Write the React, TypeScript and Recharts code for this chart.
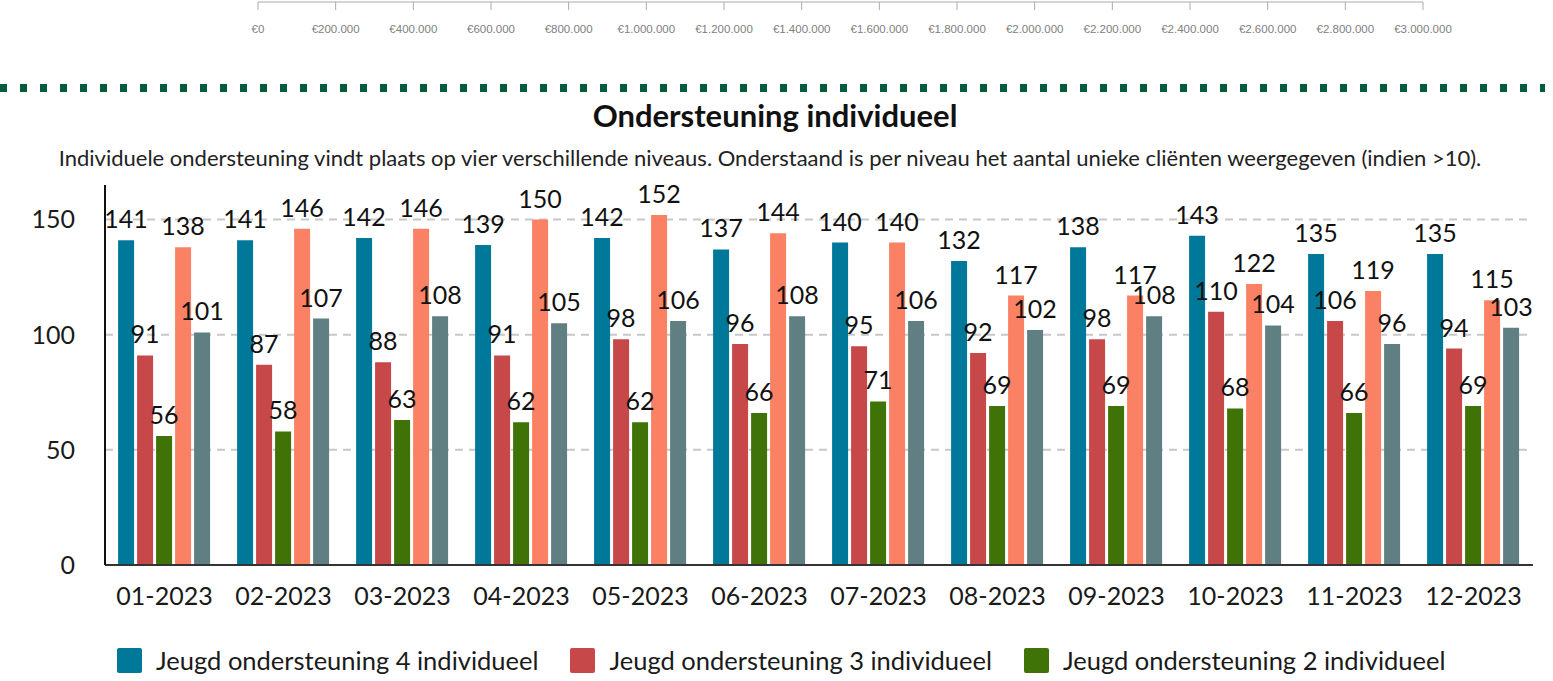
import { BarChart, Bar, XAxis, YAxis, CartesianGrid, LabelList } from 'recharts';

// months on the x axis
const months = ['01-2023', '02-2023', '03-2023', '04-2023', '05-2023', '06-2023', '07-2023', '08-2023', '09-2023', '10-2023', '11-2023', '12-2023'];

// unique clients per level
const niveau4 = [141, 141, 142, 139, 142, 137, 140, 132, 138, 143, 135, 135];
const niveau3 = [91, 87, 88, 91, 98, 96, 95, 92, 98, 110, 106, 94];
const niveau2 = [56, 58, 63, 62, 62, 66, 71, 69, 69, 68, 66, 69];
const niveau5 = [138, 146, 146, 150, 152, 144, 140, 117, 117, 122, 119, 115];
const niveau1 = [101, 107, 108, 105, 106, 108, 106, 102, 108, 104, 96, 103];

const yTicks = [0, 50, 100, 150];
const gridValues = [50, 100, 150];

// axis of the chart above (only its axis is visible)
const euroTicks = [0, 200000, 400000, 600000, 800000, 1000000, 1200000, 1400000, 1600000, 1800000, 2000000, 2200000, 2400000, 2600000, 2800000, 3000000];

const series = [
  { key: 'n4', name: 'Jeugd ondersteuning 4 individueel', color: '#00789a', values: niveau4, legend: true },
  { key: 'n3', name: 'Jeugd ondersteuning 3 individueel', color: '#c64848', values: niveau3, legend: true },
  { key: 'n2', name: 'Jeugd ondersteuning 2 individueel', color: '#3f7308', values: niveau2, legend: true },
  { key: 'n5', name: 'Jeugd ondersteuning 5 individueel', color: '#fa8164', values: niveau5, legend: false },
  { key: 'n1', name: 'Jeugd ondersteuning 1 individueel', color: '#607f83', values: niveau1, legend: false },
];

const chartData = months.map((m, i) => {
  const row: Record<string, string | number> = { month: m };
  series.forEach((s) => {
    row[s.key] = s.values[i];
  });
  return row;
});

const euro = (v: number) => '€' + String(v).replace(/\B(?=(\d{3})+(?!\d))/g, '.');

const FONT = 'Lato, "Noto Sans", sans-serif';

export default function App() {
  return (
    <div style={{ position: 'absolute', left: 0, top: 0, width: 1553, height: 681, background: '#fff', fontFamily: FONT }}>
      {/* leftover axis from the chart above */}
      <div style={{ position: 'absolute', left: 0, top: 0 }}>
        <BarChart width={1553} height={52} layout="vertical" data={[{ name: 'x', v: 0 }]} margin={{ top: 0, right: 130, left: 258, bottom: 0 }}>
          <XAxis
            type="number"
            domain={[0, 3000000]}
            ticks={euroTicks}
            interval={0}
            height={50}
            stroke="#aaaaaa"
            tickSize={8}
            tickMargin={15}
            tickFormatter={euro}
            tick={{ fill: '#808080', fontSize: 11.5, fontFamily: '"Liberation Sans", sans-serif' }}
          />
          <YAxis type="category" dataKey="name" hide width={0} />
          <Bar dataKey="v" isAnimationActive={false} />
        </BarChart>
      </div>

      <svg style={{ position: 'absolute', left: 0, top: 84 }} width={1553} height={8}>
        <line x1={0} y1={4} x2={1545} y2={4} stroke="#045c3a" strokeWidth={8} strokeDasharray="7 13" />
      </svg>

      <div style={{ position: 'absolute', left: 0, top: 100, width: 1550, textAlign: 'center', fontSize: 31, lineHeight: '31px', fontWeight: 700, color: '#111' }}>
        Ondersteuning individueel
      </div>
      <div style={{ position: 'absolute', left: 0, top: 147, width: 1540, textAlign: 'center', fontSize: 22, lineHeight: '22px', color: '#222', whiteSpace: 'nowrap' }}>
        Individuele ondersteuning vindt plaats op vier verschillende niveaus. Onderstaand is per niveau het aantal unieke cliënten weergegeven (indien &gt;10).
      </div>

      <div style={{ position: 'absolute', left: 0, top: 172 }}>
        <BarChart
          width={1553}
          height={443}
          data={chartData}
          margin={{ top: 13, right: 20, left: 0, bottom: 0 }}
          barCategoryGap="11%"
          barGap={3}
        >
          <CartesianGrid vertical={false} horizontalValues={gridValues} stroke="#c8c8c8" strokeWidth={2} strokeDasharray="8 6" />
          <XAxis
            dataKey="month"
            height={50}
            interval={0}
            tickLine={false}
            tickSize={0}
            tickMargin={22}
            axisLine={{ stroke: '#333', strokeWidth: 2 }}
            tick={{ fill: '#1a1a1a', fontSize: 25, fontFamily: FONT }}
          />
          <YAxis
            width={105}
            domain={[0, 165]}
            ticks={yTicks}
            interval={0}
            tickLine={false}
            tickSize={0}
            tickMargin={30}
            axisLine={{ stroke: '#111', strokeWidth: 2 }}
            tick={{ fill: '#1a1a1a', fontSize: 25, fontFamily: FONT }}
          />
          {series.map((s) => (
            <Bar key={s.key} dataKey={s.key} name={s.name} fill={s.color} isAnimationActive={false}>
              <LabelList dataKey={s.key} position="top" offset={12} fill="#111" fontSize={25} fontFamily={FONT} />
            </Bar>
          ))}
        </BarChart>
      </div>

      <div style={{ position: 'absolute', left: 117, top: 646, display: 'flex', alignItems: 'center' }}>
        {series.filter((s) => s.legend).map((s) => (
          <div key={s.key} style={{ display: 'flex', alignItems: 'center', marginRight: 32 }}>
            <div style={{ width: 25, height: 25, background: s.color, borderRadius: 2, marginRight: 14 }} />
            <span style={{ fontSize: 25.5, lineHeight: '28px', color: '#1a1a1a', whiteSpace: 'nowrap' }}>{s.name}</span>
          </div>
        ))}
      </div>
    </div>
  );
}
